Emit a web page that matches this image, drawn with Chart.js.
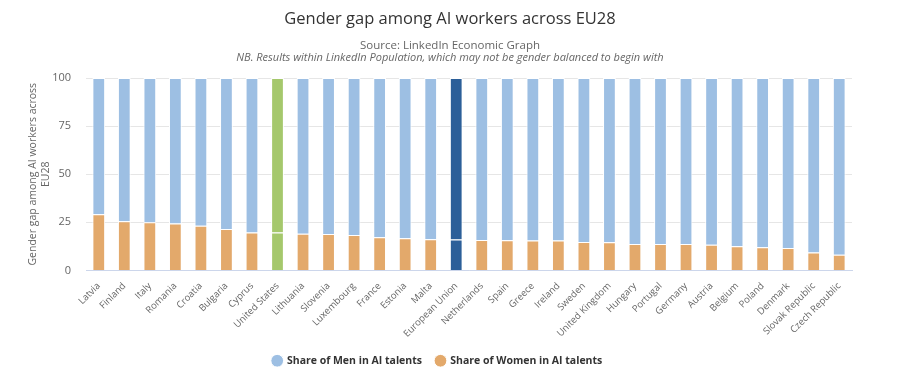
<!DOCTYPE html>
<html lang="en">
<head>
    <meta charset="UTF-8">
    <title>Gender gap among AI workers across EU28</title>
    <script src="https://cdn.jsdelivr.net/npm/chart.js"></script>
    <style>
        body {
            margin: 0;
            padding: 0;
            background: #fff;
        }

        .wrap {
            position: relative;
            width: 900px;
            height: 376px;
        }

        .heading {
            position: absolute;
            left: 0;
            top: 0;
            width: 900px;
            text-align: center;
            font-family: "Open Sans", sans-serif;
            pointer-events: none;
        }

        .heading h1 {
            margin: 0;
            position: absolute;
            top: 6px;
            width: 100%;
            font-size: 16.5px;
            font-weight: normal;
            color: #333;
        }

        .heading .src {
            position: absolute;
            top: 37px;
            width: 100%;
            font-size: 11.5px;
            color: #666;
        }

        .heading .nb {
            position: absolute;
            top: 49px;
            width: 100%;
            font-size: 11px;
            font-style: italic;
            color: #666;
        }
    </style>
</head>
<body>
    <div class="wrap">
        <canvas id="gapChart"></canvas>
        <div class="heading">
            <h1>Gender gap among AI workers across EU28</h1>
            <div class="src">Source: LinkedIn Economic Graph</div>
            <div class="nb">NB. Results within LinkedIn Population, which may not be gender balanced to begin with</div>
        </div>
    </div>

    <script>
        const countries = ['Latvia', 'Finland', 'Italy', 'Romania', 'Croatia', 'Bulgaria', 'Cyprus', 'United States',
            'Lithuania', 'Slovenia', 'Luxembourg', 'France', 'Estonia', 'Malta', 'European Union', 'Netherlands',
            'Spain', 'Greece', 'Ireland', 'Sweden', 'United Kingdom', 'Hungary', 'Portugal', 'Germany', 'Austria',
            'Belgium', 'Poland', 'Denmark', 'Slovak Republic', 'Czech Republic'];

        const womenShare = [29.2, 25.6, 25.1, 24.4, 23.2, 21.5, 19.7, 19.7, 19.1, 18.9, 18.4, 17.2, 16.7, 16.2, 16.1,
            15.8, 15.7, 15.6, 15.6, 14.8, 14.7, 13.8, 13.8, 13.8, 13.3, 12.6, 12.1, 11.6, 9.3, 8.1];

        const menShare = [70.8, 74.4, 74.9, 75.6, 76.8, 78.5, 80.3, 80.3, 80.9, 81.1, 81.6, 82.8, 83.3, 83.8, 83.9,
            84.2, 84.3, 84.4, 84.4, 85.2, 85.3, 86.2, 86.2, 86.2, 86.7, 87.4, 87.9, 88.4, 90.7, 91.9];

        const yTicks = [0, 25, 50, 75, 100];

        const MEN_COLOR = '#9dbfe3';
        const WOMEN_COLOR = '#e3a96b';
        const US_COLOR = '#a5c86c';
        const EU_COLOR = '#2c5f99';

        // highlighted bars get their own colour for both parts of the stack
        function barColors(base) {
            return countries.map(c => {
                if (c === 'United States') return US_COLOR;
                if (c === 'European Union') return EU_COLOR;
                return base;
            });
        }

        const fontFamily = '"Open Sans", sans-serif';

        new Chart(document.getElementById('gapChart'), {
            type: 'bar',
            data: {
                labels: countries,
                datasets: [{
                    label: 'Share of Women in AI talents',
                    data: womenShare,
                    backgroundColor: barColors(WOMEN_COLOR),
                    borderColor: '#ffffff',
                    borderWidth: 1,
                    borderSkipped: 'bottom',
                    barPercentage: 0.5,
                    categoryPercentage: 1
                }, {
                    label: 'Share of Men in AI talents',
                    data: menShare,
                    backgroundColor: barColors(MEN_COLOR),
                    borderColor: '#ffffff',
                    borderWidth: 1,
                    borderSkipped: 'bottom',
                    barPercentage: 0.5,
                    categoryPercentage: 1
                }]
            },
            options: {
                responsive: true,
                maintainAspectRatio: false,
                animation: false,
                layout: {
                    padding: { top: 78, left: 23, right: 48, bottom: 0 }
                },
                plugins: {
                    legend: {
                        position: 'bottom',
                        reverse: true,
                        labels: {
                            usePointStyle: true,
                            pointStyle: 'circle',
                            boxWidth: 9,
                            boxHeight: 9,
                            padding: 14,
                            color: '#333',
                            font: { family: fontFamily, size: 10.5, weight: 'bold' }
                        }
                    },
                    tooltip: { enabled: false }
                },
                scales: {
                    x: {
                        stacked: true,
                        grid: { display: false },
                        border: { color: '#ccd6eb' },
                        ticks: {
                            autoSkip: false,
                            maxRotation: 45,
                            minRotation: 45,
                            color: '#666',
                            padding: 2,
                            font: { family: fontFamily, size: 9.5 }
                        }
                    },
                    y: {
                        stacked: true,
                        min: 0,
                        max: 100,
                        afterBuildTicks: axis => {
                            axis.ticks = yTicks.map(v => ({ value: v }));
                        },
                        // chart.js counts tick padding twice; keep the axis as narrow as the original
                        afterFit: axis => {
                            axis.width = 63;
                        },
                        grid: { color: '#e6e6e6', drawTicks: false },
                        border: { display: false },
                        ticks: {
                            color: '#666',
                            padding: 15,
                            font: { family: fontFamily, size: 11 }
                        },
                        title: {
                            display: true,
                            text: ['Gender gap among AI workers across', 'EU28'],
                            color: '#666',
                            padding: { top: 4, bottom: 0 },
                            font: { family: fontFamily, size: 10.5, lineHeight: 1.2 }
                        }
                    }
                }
            }
        });
    </script>
</body>
</html>
